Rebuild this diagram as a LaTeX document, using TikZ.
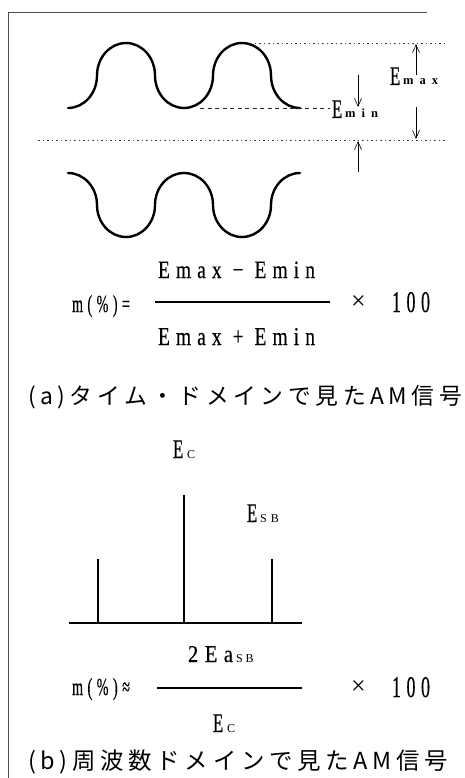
\documentclass[tikz,border=0pt]{standalone}
\usepackage{graphicx}
\usepackage{fontspec}
\setmainfont{Liberation Serif}
\newfontfamily\cnd[FakeStretch=0.62,FakeBold=0.5]{Liberation Serif}
\newfontfamily\cndsp[FakeStretch=0.7,LetterSpace=22,FakeBold=0.4]{Liberation Serif}
\newfontfamily\jp[LetterSpace=20]{Noto Sans CJK JP}
\usetikzlibrary{arrows.meta}
\newcommand\bigE{{\cnd\fontsize{27}{27}\selectfont E}}
\newcommand\subt[1]{{\bfseries\fontsize{12.5}{12.5}\selectfont #1}}
\newcommand\subc[1]{{\fontsize{12}{12}\selectfont #1}}
\begin{document}
\begin{tikzpicture}[x=1pt,y=-1pt,
  txt/.style={inner sep=0pt, outer sep=0pt, anchor=base west},
  frame/.style={line width=0.8pt, black!70},
  wave/.style={line width=2.4pt, line cap=round},
  dotl/.style={line width=0.7pt, dash pattern=on 1.5pt off 3pt, black!75},
  dashl/.style={line width=0.7pt, dash pattern=on 4pt off 3.5pt, black!85},
  arr/.style={line width=0.6pt, -{Straight Barb[length=8pt,width=7pt]}},
  bar/.style={line width=2.6pt},
  fracl/.style={line width=1.2pt}]
\path[use as bounding box] (0,0) rectangle (465,778);
% frame
\coordinate (fTL) at (8,12);
\coordinate (fTR) at (427,12);
\coordinate (fBL) at (8,778);
\draw[frame] (fTR) -- (fTL) -- (fBL);
% upper wave
\draw[wave] (68,108)
  arc[start angle=90,end angle=0,x radius=29,y radius=32.5]
  arc[start angle=180,end angle=360,x radius=29,y radius=32.5]
  arc[start angle=180,end angle=0,x radius=29,y radius=32.5]
  arc[start angle=180,end angle=360,x radius=29,y radius=32.5]
  arc[start angle=180,end angle=90,x radius=29,y radius=32.5];
% lower wave
\draw[wave] (68,173)
  arc[start angle=270,end angle=360,x radius=29,y radius=32]
  arc[start angle=180,end angle=0,x radius=29,y radius=32]
  arc[start angle=180,end angle=360,x radius=29,y radius=32]
  arc[start angle=180,end angle=0,x radius=29,y radius=32]
  arc[start angle=180,end angle=270,x radius=29,y radius=32];
% reference lines
\draw[dotl] (250,43.5) -- (445,43.5);
\draw[dashl] (200,108) -- (330,108);
\draw[dotl] (38,140) -- (445,140);
% arrows
\coordinate (n1s) at (358,75);  \coordinate (n1e) at (358,107);
\coordinate (n2s) at (358,172); \coordinate (n2e) at (358,141);
\coordinate (x1s) at (416,75);  \coordinate (x1e) at (416,44);
\coordinate (x2s) at (416,107); \coordinate (x2e) at (416,139);
\draw[arr] (n1s) -- (n1e);
\draw[arr] (n2s) -- (n2e);
\draw[arr] (x1s) -- (x1e);
\draw[arr] (x2s) -- (x2e);
% labels
\node[txt] (emax) at (390,85) {\bigE\hspace{3pt}\subt{m\hspace{6pt}a\hspace{6pt}x}};
\node[txt] (emin) at (332,118) {\bigE\hspace{3pt}\subt{m\hspace{6pt}i\hspace{6pt}n}};
% formula (a)
\node[txt] (mA) at (72,312) {\resizebox{58pt}{17pt}{\cndsp m(\%)=}};
\node[txt] (numA) at (158,278) {\resizebox{157pt}{16.5pt}{\cndsp Emax − Emin}};
\node[txt] (denA) at (158,345) {\resizebox{157pt}{17pt}{\cndsp Emax + Emin}};
\draw[fracl] (155,302) -- (330,302);
\node[inner sep=0pt] (tA) at (358.5,303) {\fontsize{26}{26}\selectfont ×};
\node[txt] (hA) at (392,312) {\resizebox{38pt}{20pt}{\cndsp 100}};
% caption (a)
\node[txt] (capA) at (28,404) {\resizebox{434pt}{!}{\jp\fontsize{20}{20}\selectfont (a)タイム・ドメインで見たAM信号}};
% spectrum
\node[txt] (ec) at (173,458) {\bigE\hspace{4pt}\subc{C}};
\node[txt] (esb) at (247,522) {\bigE\hspace{3pt}\subc{S\hspace{4pt}B}};
\coordinate (bl) at (98,559);  \coordinate (blb) at (98,623);
\coordinate (bc) at (184,495); \coordinate (bcb) at (184,623);
\coordinate (br) at (272,559); \coordinate (brb) at (272,623);
\coordinate (axL) at (69,623); \coordinate (axR) at (302,623);
\draw[bar] (bl) -- (blb);
\draw[bar] (bc) -- (bcb);
\draw[bar] (br) -- (brb);
\draw[bar] (axL) -- (axR);
% formula (b)
\node[txt] (mB) at (72,695) {\resizebox{58pt}{17pt}{\cndsp m(\%)≈}};
\node[txt] (numB) at (188,662) {\resizebox{45pt}{16pt}{\cndsp 2Ea}\hspace{3pt}\subc{S\hspace{3pt}B}};
\draw[fracl] (157,688) -- (302,688);
\node[inner sep=0pt] (tB) at (358.5,688) {\fontsize{26}{26}\selectfont ×};
\node[txt] (hB) at (392,697) {\resizebox{38pt}{20pt}{\cndsp 100}};
\node[txt] (denB) at (213,732) {\bigE\hspace{4pt}\subc{C}};
% caption (b)
\node[txt] (capB) at (28,769) {\resizebox{420pt}{!}{\jp\fontsize{20}{20}\selectfont (b)周波数ドメインで見たAM信号}};
\end{tikzpicture}
\end{document}
